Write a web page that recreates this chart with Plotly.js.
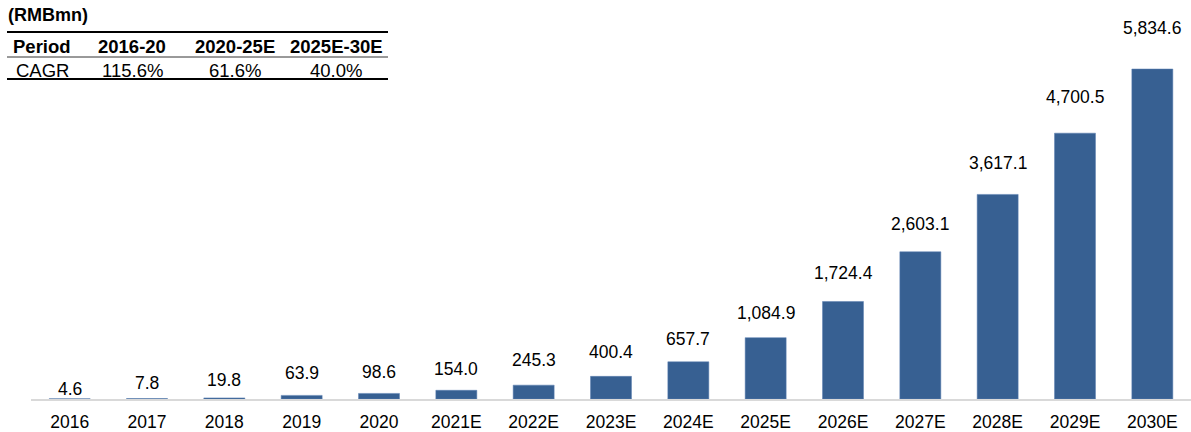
<!DOCTYPE html>
<html>
<head>
<meta charset="utf-8">
<script src="https://cdn.plot.ly/plotly-3.0.1.min.js"></script>
<style>html,body{margin:0;padding:0;background:#fff;}#chart{width:1191px;height:432px;}</style>
</head>
<body>
<div id="chart"></div>
<script>
// ---- data ----
const categories = ['2016','2017','2018','2019','2020','2021E','2022E','2023E','2024E','2025E','2026E','2027E','2028E','2029E','2030E'];
const values = [4.6, 7.8, 19.8, 63.9, 98.6, 154.0, 245.3, 400.4, 657.7, 1084.9, 1724.4, 2603.1, 3617.1, 4700.5, 5834.6];
const unitLabel = '(RMBmn)';
const tableHeader = ['Period', '2016-20', '2020-25E', '2025E-30E'];
const tableRow = ['CAGR', '115.6%', '61.6%', '40.0%'];

// ---- styling: extra lift (px) of each value label above its bar, as in the reference ----
const labelLift = [-2, 4, 6, 10, 9, 9, 13, 12, 11, 13, 16, 16, 19, 24, 29];

// ---- layout helpers (pixel -> paper) ----
const W = 1191, H = 432, ML = 31, MR = 0, MT = 0, MB = 33;
const PW = W - ML - MR, PH = H - MT - MB;
const px = x => (x - ML) / PW;
const py = y => (H - MB - y) / PH;

const FONT = 'Liberation Sans, Arial, sans-serif';
const fmt = v => v.toLocaleString('en-US', {minimumFractionDigits: 1, maximumFractionDigits: 1});

const annotations = [];
// value labels
values.forEach((v, i) => {
  annotations.push({
    x: i, y: v, xref: 'x', yref: 'y',
    text: fmt(v), showarrow: false, yanchor: 'bottom',
    yshift: labelLift[i],
    font: {family: FONT, size: 17.5, color: '#000'}
  });
});
// unit label
annotations.push({
  x: px(6), y: py(15), xref: 'paper', yref: 'paper', xanchor: 'left', yanchor: 'middle',
  text: '<b>' + unitLabel + '</b>', showarrow: false,
  font: {family: FONT, size: 18, color: '#000'}
});
// table
const colX = [42, 132, 235, 336];
tableHeader.forEach((t, j) => {
  annotations.push({
    x: px(colX[j]), y: py(46), xref: 'paper', yref: 'paper', xanchor: 'center', yanchor: 'middle',
    text: '<b>' + t + '</b>', showarrow: false,
    font: {family: FONT, size: 18.5, color: '#000'}
  });
});
tableRow.forEach((t, j) => {
  annotations.push({
    x: px(colX[j]), y: py(70), xref: 'paper', yref: 'paper', xanchor: 'center', yanchor: 'middle',
    text: t, showarrow: false,
    font: {family: FONT, size: 18.5, color: '#000'}
  });
});

const shapes = [
  {type: 'line', xref: 'paper', yref: 'paper', x0: px(7), x1: px(388), y0: py(32), y1: py(32), line: {color: '#000', width: 2}},
  {type: 'line', xref: 'paper', yref: 'paper', x0: px(7), x1: px(388), y0: py(57), y1: py(57), line: {color: '#000', width: 0.8}},
  {type: 'line', xref: 'paper', yref: 'paper', x0: px(7), x1: px(388), y0: py(79), y1: py(79), line: {color: '#000', width: 2}}
];

const trace = {
  type: 'bar', x: categories, y: values,
  marker: {color: '#376092', line: {color: '#5b7fb0', width: 0.5}},
  hoverinfo: 'x+y'
};

const layout = {
  width: W, height: H,
  margin: {l: ML, r: MR, t: MT, b: MB, pad: 0},
  paper_bgcolor: '#fff', plot_bgcolor: '#fff',
  showlegend: false,
  bargap: 0.47,
  xaxis: {
    type: 'category', range: [-0.5, categories.length - 0.5],
    showgrid: false, zeroline: false,
    showline: true, linecolor: '#d9d9d9', linewidth: 2,
    ticks: '', ticklabelstandoff: 6,
    tickfont: {family: FONT, size: 17.5, color: '#000'}
  },
  yaxis: {
    range: [0, 7054.6], visible: false, showgrid: false, zeroline: false, fixedrange: true
  },
  annotations: annotations,
  shapes: shapes
};

Plotly.newPlot('chart', [trace], layout, {displayModeBar: false, staticPlot: true});
</script>
</body>
</html>
